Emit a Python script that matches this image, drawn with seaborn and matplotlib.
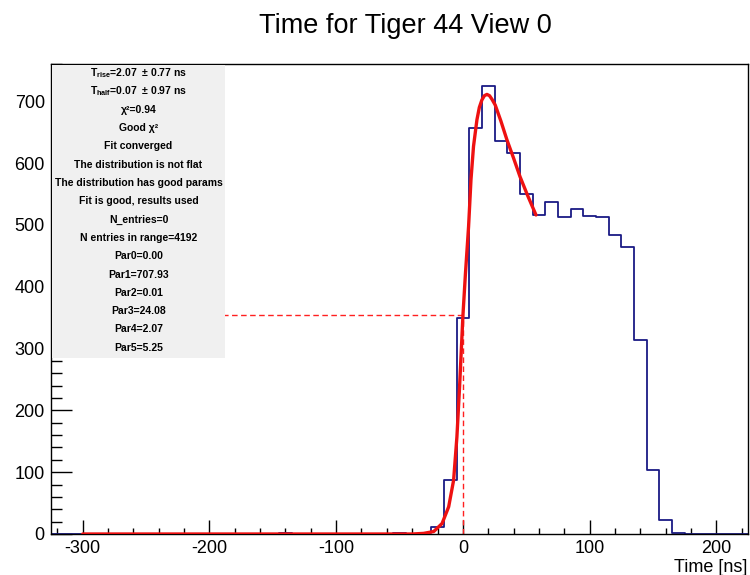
import numpy as np
import pandas as pd
import matplotlib
matplotlib.use("Agg")
import matplotlib.pyplot as plt
from matplotlib.ticker import MultipleLocator
from matplotlib.patches import Rectangle
import seaborn as sns

# ---- histogram: 10 ns bins from -325 to 225 ns ----
t_min, t_max, bin_width = -325, 225, 10
bin_counts = [
    0, 0, 0, 0, 0, 0, 0, 0, 0, 0, 0, 0, 0, 0, 0, 0, 0, 0,   # -325 .. -145
    1,                                                      # -145 .. -135
    0, 0, 0, 0, 0, 0, 0, 0,                                 # -135 .. -55
    1, 0, 2, 12, 87, 350,                                   # -55 .. 5
    657, 724, 636, 617, 550, 516, 537, 512, 526, 514, 512,  # 5 .. 115
    484, 464, 314, 104, 23, 2,                              # 115 .. 175
    0, 0, 0, 0, 0,                                          # 175 .. 225
]

# ---- fitted rising-edge curve (sampled) ----
fit_t = [-300, -40, -31, -23, -16.4, -11.2, -7.3, -4.7, -2.6, 0.07, 2.0, 4.5,
         6.4, 8.4, 11.1, 13.0, 15.0, 17.0, 19.0, 21.0, 23.0, 25.5, 30.0, 34.7,
         40.0, 45.1, 51.0, 57.7]
fit_y = [0, 0, 1, 4, 17, 44, 87, 157, 238, 354, 420, 497,
         573, 627, 670, 690, 702, 709, 711, 709, 703, 694, 668, 638,
         608, 578, 548, 516]

# ---- fit summary ----
t_rise, t_rise_err = 2.07, 0.77
t_half, t_half_err = 0.07, 0.97
chi2 = 0.94
n_entries = 0
n_in_range = 4192
par_values = [0.00, 707.93, 0.01, 24.08, 2.07, 5.25]
status_lines = ["Good \u03c7\u00b2", "Fit converged", "The distribution is not flat",
                "The distribution has good params", "Fit is good, results used"]

sns.set_style("white")
plt.rcParams["font.family"] = ["Liberation Sans", "DejaVu Sans"]
plt.rcParams["mathtext.fontset"] = "custom"
plt.rcParams["mathtext.rm"] = "Liberation Sans:bold"
plt.rcParams["mathtext.bf"] = "Liberation Sans:bold"
plt.rcParams["axes.unicode_minus"] = False
plt.rcParams["text.color"] = "black"
plt.rcParams["xtick.color"] = "black"
plt.rcParams["ytick.color"] = "black"

W, H = 750, 575
fig = plt.figure(figsize=(W / 100, H / 100), dpi=100)
ax_l, ax_r, ax_t, ax_b = 51, 748, 64, 534
ax = fig.add_axes([ax_l / W, 1 - ax_b / H, (ax_r - ax_l) / W, (ax_b - ax_t) / H])

n_bins = len(bin_counts)
hist_df = pd.DataFrame({
    "time": t_min + bin_width * (np.arange(n_bins) + 0.5),
    "count": bin_counts,
})
sns.histplot(data=hist_df, x="time", weights="count", binwidth=bin_width,
             binrange=(t_min, t_max), element="step", fill=False,
             color="#1a1a85", linewidth=1.3, ax=ax, zorder=2)

half_level = par_values[1] / 2
ax.plot([t_min, t_half], [half_level, half_level], color="#ff2020",
        lw=1, ls=(0, (4, 2.5)), zorder=1.5)
ax.plot([t_half, t_half], [0, half_level], color="#ff2020",
        lw=1, ls=(0, (4, 2.5)), zorder=1.5)

sns.lineplot(x=fit_t, y=fit_y, sort=False, color="#ee1111", linewidth=2.4,
             ax=ax, zorder=3)

ax.set_xlim(t_min, t_max)
ax.set_ylim(0, max(bin_counts) * 1.05)
ax.set_xlabel("")
ax.set_ylabel("")

ax.xaxis.set_major_locator(MultipleLocator(100))
ax.xaxis.set_minor_locator(MultipleLocator(20))
ax.yaxis.set_major_locator(MultipleLocator(100))
ax.yaxis.set_minor_locator(MultipleLocator(20))
ax.tick_params(axis="x", which="major", direction="in", length=9.9, width=1,
               labelsize=13, pad=4.3, color="black", labelcolor="black",
               bottom=True, top=False)
ax.tick_params(axis="x", which="minor", direction="in", length=4.3, width=1,
               color="black", bottom=True, top=False)
ax.tick_params(axis="y", which="major", direction="in", length=14.9, width=1,
               labelsize=13, pad=4.5, color="black", labelcolor="black",
               left=True, right=False)
ax.tick_params(axis="y", which="minor", direction="in", length=7.9, width=1,
               color="black", left=True, right=False)
for s in ax.spines.values():
    s.set_visible(True)
    s.set_color("black")
    s.set_linewidth(1)

# ---- statistics box (drawn over the plot, frame line left visible) ----
box_x0 = 1.0 / (ax_r - ax_l)
box_w = (225 - ax_l) / (ax_r - ax_l) - box_x0
box_h = (358 - ax_t - 1) / (ax_b - ax_t)
ax.add_patch(Rectangle((box_x0, 1 - box_h - 1.0 / (ax_b - ax_t)), box_w, box_h,
                       transform=ax.transAxes, facecolor="#f0f0f0",
                       edgecolor="none", zorder=4, clip_on=False))

lines = [
    f"T$_{{\\mathrm{{rise}}}}$={t_rise:.2f}  \u00b1 {t_rise_err:.2f} ns",
    f"T$_{{\\mathrm{{half}}}}$={t_half:.2f}  \u00b1 {t_half_err:.2f} ns",
    f"\u03c7\u00b2={chi2:.2f}",
] + status_lines + [
    f"N_entries={n_entries}",
    f"N entries in range={n_in_range}",
] + [f"Par{i}={v:.2f}" for i, v in enumerate(par_values)]

text_x = box_x0 + box_w / 2
for i, txt in enumerate(lines):
    py = 73.3 + 18.3 * i
    ax.text(text_x, (ax_b - py) / (ax_b - ax_t), txt, transform=ax.transAxes,
            ha="center", va="center", fontsize=7.5, fontweight="bold",
            color="black", zorder=5)

fig.text(405 / W, 1 - 33 / H, "Time for Tiger 44 View 0", ha="center",
         va="baseline", fontsize=19.5, color="black")
fig.text(747 / W, 1 - 572 / H, "Time [ns]", ha="right", va="baseline",
         fontsize=13, color="black")

fig.savefig("out.png", dpi=100, facecolor="white")
